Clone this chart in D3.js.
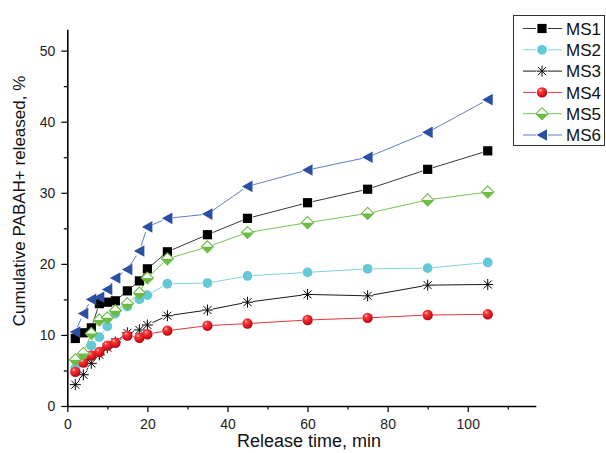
<!DOCTYPE html>
<html>
<head>
<meta charset="utf-8">
<script src="https://cdn.jsdelivr.net/npm/d3@7"></script>
<style>
  body { margin: 0; background: #fff; }
  svg { display: block; font-family: "Liberation Sans", Arial, sans-serif; }
</style>
</head>
<body>
<svg id="chart" width="606" height="453"></svg>
<script>
// Sampling times (min)
const times = [2, 4, 6, 8, 10, 12, 15, 18, 20, 25, 35, 45, 60, 75, 90, 105];

// Cumulative release (%) per formulation
const ms1 = [9.5, 10.3, 11.0, 14.4, 14.6, 14.8, 16.2, 17.6, 19.3, 21.7, 24.1, 26.4, 28.6, 30.5, 33.3, 35.9];
const ms2 = [5.3, 6.8, 8.5, 9.7, 11.2, 13.0, 14.0, 15.0, 15.6, 17.2, 17.3, 18.3, 18.8, 19.3, 19.4, 20.2];
const ms3 = [3.0, 4.4, 6.0, 7.2, 8.2, 9.0, 10.3, 10.7, 11.4, 12.7, 13.5, 14.6, 15.7, 15.5, 17.0, 17.1];
const ms4 = [4.8, 6.1, 7.1, 7.6, 8.5, 8.9, 9.9, 9.6, 10.1, 10.6, 11.3, 11.6, 12.1, 12.4, 12.8, 12.9];
const ms5 = [6.5, 7.4, 10.2, 12.1, 12.4, 13.4, 14.4, 15.9, 18.0, 20.7, 22.4, 24.4, 25.8, 27.1, 29.0, 30.1];
const ms6 = [10.4, 13.0, 15.0, 15.3, 16.4, 18.0, 19.2, 21.8, 25.2, 26.4, 27.0, 30.9, 33.2, 35.0, 38.5, 43.1];

const seriesNames = ["MS1", "MS2", "MS3", "MS4", "MS5", "MS6"];
const xTicks = [0, 20, 40, 60, 80, 100];
const xMinorTicks = [10, 30, 50, 70, 90, 110];
const yTicks = [0, 10, 20, 30, 40, 50];
const yMinorTicks = [5, 15, 25, 35, 45];

const seriesValues = [ms1, ms2, ms3, ms4, ms5, ms6];
const styles = [
  { marker: "square",   line: "#3a3a3a", color: "#000000" },
  { marker: "circle",   line: "#7fd4df", color: "#64c9d7" },
  { marker: "star",     line: "#1a1a1a", color: "#000000" },
  { marker: "sphere",   line: "#e8333a", color: "#e8202a" },
  { marker: "diamond",  line: "#78c455", color: "#6cbb45" },
  { marker: "triangle", line: "#5f7fc6", color: "#2c4ea3" }
];

const svg = d3.select("#chart");

const defs = svg.append("defs");
const grad = defs.append("radialGradient").attr("id", "redBall")
  .attr("cx", "40%").attr("cy", "35%").attr("r", "65%").attr("fx", "35%").attr("fy", "30%");
grad.append("stop").attr("offset", "0%").attr("stop-color", "#ffd6d6");
grad.append("stop").attr("offset", "25%").attr("stop-color", "#ff3a3a");
grad.append("stop").attr("offset", "75%").attr("stop-color", "#d8121b");
grad.append("stop").attr("offset", "100%").attr("stop-color", "#a30a10");

const x = d3.scaleLinear().domain([0, 117]).range([67.3, 535.8]);
const y = d3.scaleLinear().domain([0, 53]).range([406, 29.3]);

// Axes: major ticks with labels, minor ticks without
const xAxisG = svg.append("g").attr("transform", `translate(0,${y(0)})`);
xAxisG.call(d3.axisBottom(x).tickValues(xTicks).tickSize(6).tickSizeOuter(0).tickPadding(7));
xAxisG.append("g").call(d3.axisBottom(x).tickValues(xMinorTicks).tickSize(3.5).tickSizeOuter(0).tickFormat(""))
  .select(".domain").remove();

const yAxisG = svg.append("g").attr("transform", `translate(${x(0)},0)`);
yAxisG.call(d3.axisLeft(y).tickValues(yTicks).tickSize(6).tickSizeOuter(0).tickPadding(6));
yAxisG.append("g").call(d3.axisLeft(y).tickValues(yMinorTicks).tickSize(3.5).tickSizeOuter(0).tickFormat(""))
  .select(".domain").remove();

svg.selectAll(".domain").attr("stroke", "#000").attr("stroke-width", 1.6);
svg.selectAll(".tick line").attr("stroke", "#000").attr("stroke-width", 1.2);
svg.selectAll(".tick text").attr("font-size", 14).attr("fill", "#222")
  .attr("font-family", "Liberation Sans, Arial, sans-serif");

// Axis titles
svg.append("text").attr("x", 309).attr("y", 447).attr("text-anchor", "middle")
  .attr("font-size", 18).attr("fill", "#111").text("Release time, min");
svg.append("text").attr("transform", "translate(25,201) rotate(-90)").attr("text-anchor", "middle")
  .attr("font-size", 17).attr("fill", "#111").text("Cumulative PABAH+ released, %");

// Marker shapes centred on (0,0)
function drawMarker(g, type, color) {
  switch (type) {
    case "square":
      g.append("rect").attr("x", -4.6).attr("y", -4.6).attr("width", 9.2).attr("height", 9.2).attr("fill", color);
      break;
    case "circle":
      g.append("circle").attr("r", 4.9).attr("fill", color);
      break;
    case "star":
      g.append("path").attr("d", "M0,-5.5V5.5M-5.5,0H5.5M-4,-4L4,4M-4,4L4,-4")
        .attr("stroke", color).attr("stroke-width", 1).attr("fill", "none");
      break;
    case "sphere":
      g.append("circle").attr("r", 5.2).attr("fill", "url(#redBall)");
      break;
    case "diamond":
      g.append("path").attr("d", "M0,-6L6,0L0,6L-6,0Z").attr("fill", "#fff")
        .attr("stroke", color).attr("stroke-width", 1.1);
      g.append("path").attr("d", "M-6,0L6,0L0,6Z").attr("fill", color);
      break;
    case "triangle":
      g.append("path").attr("d", "M-5.5,0L5,-5.8L5,5.8Z").attr("fill", color);
      break;
  }
}

// Connecting lines stop short of each marker
const gap = 5.5;
seriesValues.forEach((vals, si) => {
  const st = styles[si];
  const pts = times.map((t, i) => [x(t), y(vals[i])]);
  const lg = svg.append("g");
  for (let i = 0; i < pts.length - 1; i++) {
    const [x1, y1] = pts[i], [x2, y2] = pts[i + 1];
    const dx = x2 - x1, dy = y2 - y1, d = Math.hypot(dx, dy);
    if (d <= 2 * gap) continue;
    const ux = dx / d, uy = dy / d;
    lg.append("line")
      .attr("x1", x1 + ux * gap).attr("y1", y1 + uy * gap)
      .attr("x2", x2 - ux * gap).attr("y2", y2 - uy * gap)
      .attr("stroke", st.line).attr("stroke-width", 1);
  }
});

seriesValues.forEach((vals, si) => {
  const st = styles[si];
  const mg = svg.append("g");
  times.forEach((t, i) => {
    const g = mg.append("g").attr("transform", `translate(${x(t)},${y(vals[i])})`);
    drawMarker(g, st.marker, st.color);
  });
});

// Legend
const legend = svg.append("g");
legend.append("rect").attr("x", 513.5).attr("y", 15.5).attr("width", 91).attr("height", 130)
  .attr("fill", "#fff").attr("stroke", "#333").attr("stroke-width", 1);
seriesNames.forEach((name, i) => {
  const st = styles[i];
  const ly = 28.5 + i * 21.3;
  legend.append("line").attr("x1", 523).attr("x2", 536).attr("y1", ly).attr("y2", ly)
    .attr("stroke", st.line).attr("stroke-width", 1);
  legend.append("line").attr("x1", 548).attr("x2", 562).attr("y1", ly).attr("y2", ly)
    .attr("stroke", st.line).attr("stroke-width", 1);
  const g = legend.append("g").attr("transform", `translate(542,${ly})`);
  drawMarker(g, st.marker, st.color);
  legend.append("text").attr("x", 566).attr("y", ly).attr("dy", "0.36em")
    .attr("font-size", 17).attr("fill", "#111").text(name);
});
</script>
</body>
</html>
